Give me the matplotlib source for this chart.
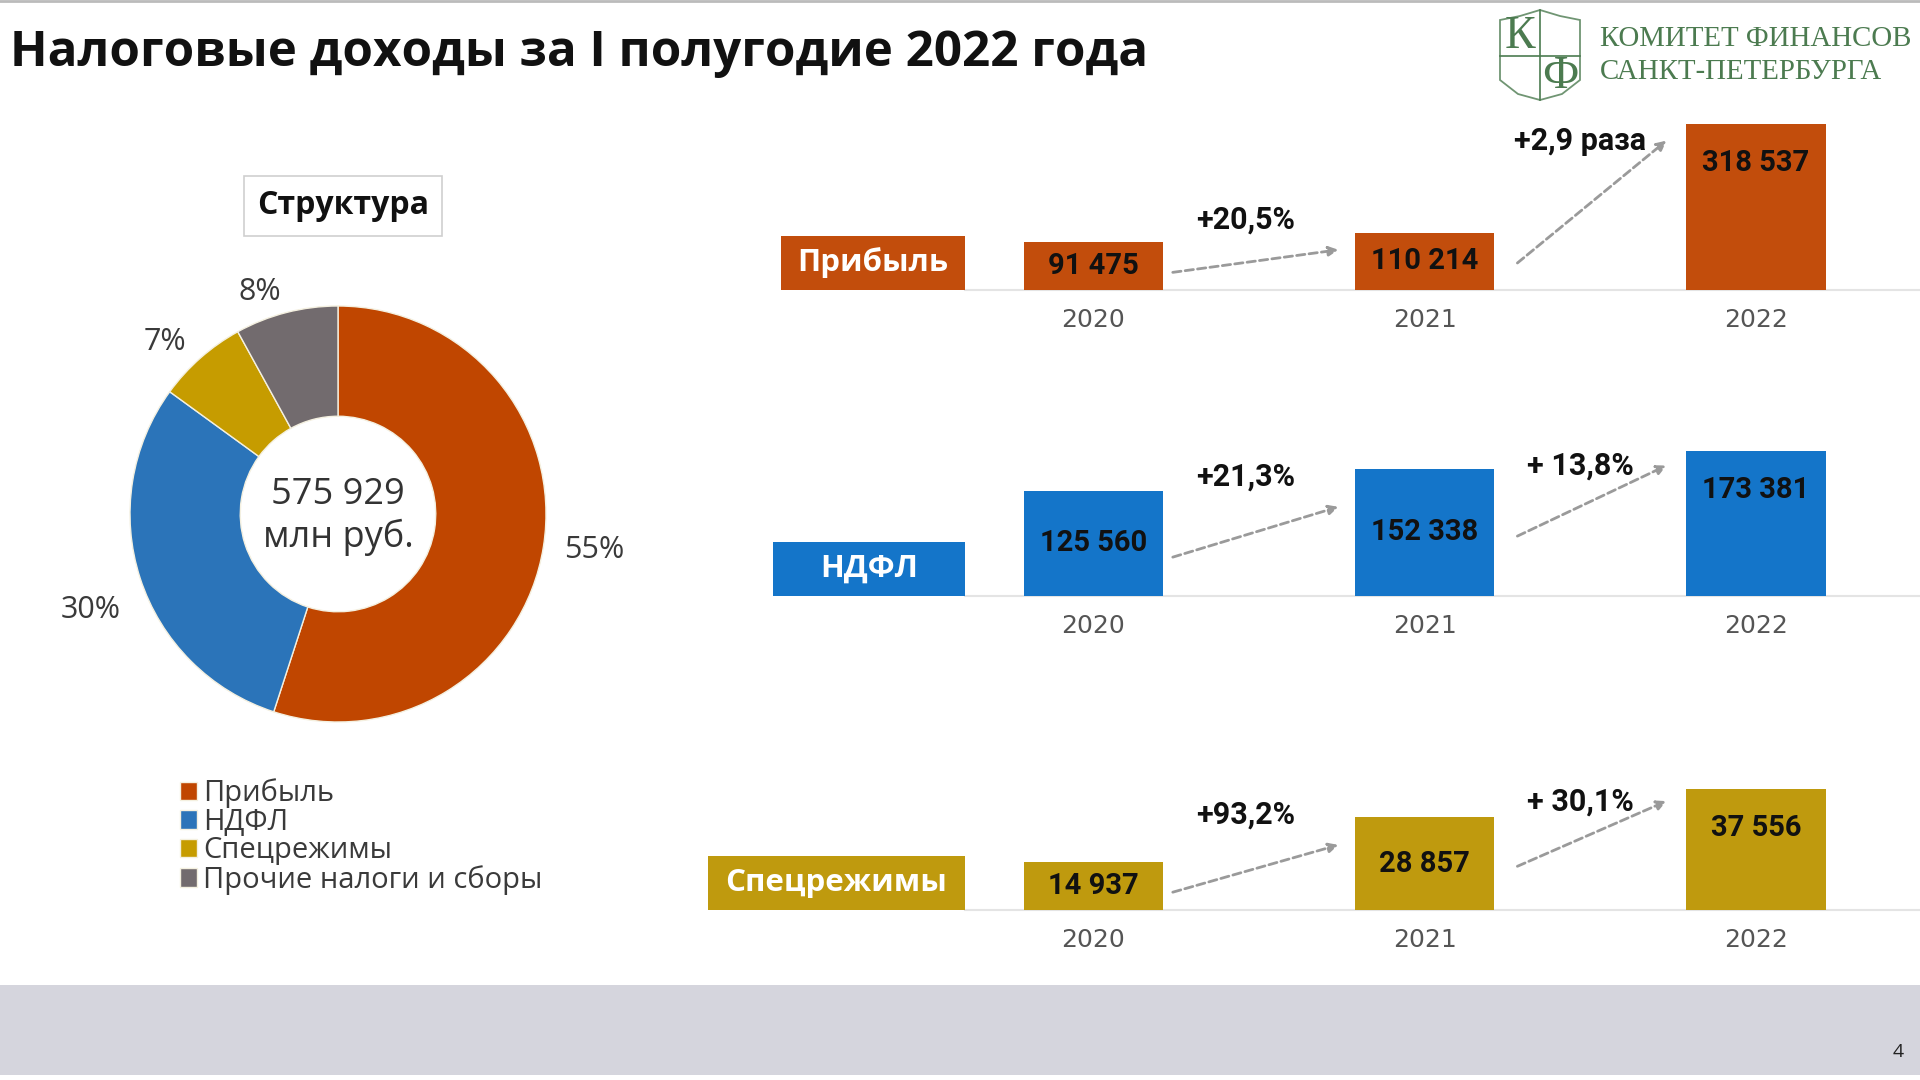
import matplotlib
matplotlib.use("Agg")
import matplotlib.pyplot as plt
from matplotlib.patches import Rectangle, Polygon
from matplotlib.lines import Line2D

# ---- data -------------------------------------------------------------
title = "Налоговые доходы за I полугодие 2022 года"
years = ["2020", "2021", "2022"]

tax_names = ["Прибыль", "НДФЛ", "Спецрежимы"]
profit_values = [91475, 110214, 318537]
ndfl_values = [125560, 152338, 173381]
special_values = [14937, 28857, 37556]
profit_growth = ["+20,5%", "+2,9 раза"]
ndfl_growth = ["+21,3%", "+ 13,8%"]
special_growth = ["+93,2%", "+ 30,1%"]

structure_labels = ["Прибыль", "НДФЛ", "Спецрежимы", "Прочие налоги и сборы"]
structure_shares = [55, 30, 7, 8]
total_text = "575 929\nмлн руб."

# ---- styling ----------------------------------------------------------
W, H = 1920, 1080
SANS = ["Open Sans", "DejaVu Sans"]
NARROW = ["Roboto", "DejaVu Sans"]
SERIF = ["Liberation Serif", "DejaVu Serif"]

bar_colors = ["#C24D0C", "#1475C9", "#BF9A0E"]
pie_colors = ["#C04600", "#2B74B9", "#C69C00", "#726B6E"]
logo_green = "#4C7B50"

# pixel layout of the three bar rows (baseline y, tallest bar height, label box left)
row_baseline = [290, 596, 910]
row_tallest_px = [166, 145, 121]
row_box_left = [781, 773, 708]
ROW_H = 200
arrow_frac = [(0.37, 0.70), (0.47, 0.90)]
arrow_x = [(0.24, 0.74), (1.28, 1.73)]
label_x = [0.46, 1.47]


def fx(x):
    return x / W


def fy(y):
    return 1 - y / H


plt.rcParams["font.family"] = SANS
fig = plt.figure(figsize=(W / 100, H / 100), dpi=100)
fig.patch.set_facecolor("white")

# header
fig.text(fx(10), fy(54), title, fontsize=35.5, fontweight="bold", color="#111111",
         ha="left", va="center")
fig.add_artist(Line2D([0, 1], [fy(1), fy(1)], color="#bbbbbb", lw=2))

# logo
shield = [(1500, 20), (1520, 16), (1540, 10), (1560, 16), (1580, 20), (1580, 80),
          (1562, 94), (1540, 100), (1518, 94), (1500, 80)]
fig.add_artist(Polygon([(fx(x), fy(y)) for x, y in shield], closed=True, fill=False,
                       edgecolor=logo_green, lw=1.3, alpha=0.8))
fig.add_artist(Line2D([fx(1540), fx(1540)], [fy(10), fy(100)], color=logo_green, lw=1.2))
fig.add_artist(Line2D([fx(1500), fx(1580)], [fy(56), fy(56)], color=logo_green, lw=1.2))
fig.text(fx(1520), fy(37), "К", family=SERIF, fontsize=33, color=logo_green,
         ha="center", va="center")
fig.text(fx(1560), fy(77), "Ф", family=SERIF, fontsize=33, color=logo_green,
         ha="center", va="center")
fig.text(fx(1600), fy(39), "КОМИТЕТ ФИНАНСОВ", family=SERIF, fontsize=20.8,
         color=logo_green, ha="left", va="center")
fig.text(fx(1600), fy(72), "САНКТ-ПЕТЕРБУРГА", family=SERIF, fontsize=20.8,
         color=logo_green, ha="left", va="center")

# ---- donut ------------------------------------------------------------
cx, cy, r = 338, 514, 208
ax_pie = fig.add_axes([fx(cx - r), fy(cy + r), 2 * r / W, 2 * r / H])
wedges, texts = ax_pie.pie(
    structure_shares,
    colors=pie_colors,
    labels=[f"{v}%" for v in structure_shares],
    labeldistance=1.1,
    startangle=90,
    counterclock=False,
    wedgeprops=dict(width=0.53, edgecolor="#f4f0e0", linewidth=1),
    textprops=dict(fontsize=22, color="#3a3a3a"),
)
# the 30% label sits a bit lower in the original
texts[1].set_position((texts[1].get_position()[0], texts[1].get_position()[1] - 0.12))
ax_pie.set_xlim(-1, 1)
ax_pie.set_ylim(-1, 1)
ax_pie.set_aspect("equal")
ax_pie.text(0, -0.01, total_text, ha="center", va="center", fontsize=26,
            color="#333333", linespacing=1.2)

fig.text(fx(343), fy(206), "Структура", fontsize=23, fontweight="bold", color="#111111",
         ha="center", va="center",
         bbox=dict(boxstyle="square,pad=0.42", facecolor="white", edgecolor="#cfcfcf", lw=1.2))

fig.legend(wedges, structure_labels, loc="upper left",
           bbox_to_anchor=(fx(168), fy(767)), frameon=False, fontsize=21,
           handlelength=0.6, handleheight=0.6, handletextpad=0.2,
           labelspacing=-0.02, borderaxespad=0, labelcolor="#3a3a3a")

# ---- bar rows ---------------------------------------------------------
rows = [
    (profit_values, profit_growth),
    (ndfl_values, ndfl_growth),
    (special_values, special_growth),
]

for k, (values, growth) in enumerate(rows):
    base = row_baseline[k]
    ax = fig.add_axes([fx(965), fy(base), fx(1920) - fx(965), ROW_H / H])
    ax.set_facecolor("none")
    top = max(values) * ROW_H / row_tallest_px[k]
    xs = list(range(len(values)))
    ax.bar(xs, values, width=0.42, color=bar_colors[k], zorder=3)
    ax.set_xlim(-0.387, 2.495)
    ax.set_ylim(0, top)

    for sp in ["top", "right", "left"]:
        ax.spines[sp].set_visible(False)
    ax.spines["bottom"].set_color("#e4e4e4")
    ax.spines["bottom"].set_linewidth(1.5)
    ax.set_yticks([])
    ax.set_xticks(xs)
    ax.set_xticklabels(years, fontsize=18, color="#555555", family=["DejaVu Sans"])
    ax.tick_params(axis="x", length=0, pad=13)

    for i, v in enumerate(values):
        if i == len(values) - 1:
            ax.annotate(f"{v:,}".replace(",", " "), (i, v), xytext=(0, -28),
                        textcoords="offset points", ha="center", va="center",
                        family=NARROW, fontsize=21, fontweight="bold", color="#111111")
        else:
            ax.text(i, v / 2, f"{v:,}".replace(",", " "), ha="center", va="center",
                    family=NARROW, fontsize=21, fontweight="bold", color="#111111")

    for i, g in enumerate(growth):
        y0 = arrow_frac[i][0] * values[i]
        y1 = arrow_frac[i][1] * values[i + 1]
        ax.annotate("", xy=(arrow_x[i][1], y1), xytext=(arrow_x[i][0], y0),
                    arrowprops=dict(arrowstyle="-|>", color="#9a9a9a", lw=2,
                                    linestyle=(0, (3, 1.5)), mutation_scale=14,
                                    shrinkA=0, shrinkB=0))
        off = 22 if i == 0 else 0
        ax.annotate(g, (label_x[i], y1), xytext=(0, off), textcoords="offset points",
                    ha="center", va="center", family=NARROW, fontsize=22,
                    fontweight="bold", color="#111111", annotation_clip=False)

    # category label box
    fig.add_artist(Rectangle((fx(row_box_left[k]), fy(base)), fx(965) - fx(row_box_left[k]),
                             54 / H, facecolor=bar_colors[k], edgecolor="none"))
    fig.text((fx(row_box_left[k]) + fx(965)) / 2, fy(base - 27), tax_names[k],
             fontsize=22.5, fontweight="bold", color="white", ha="center", va="center")

# ---- bottom band ------------------------------------------------------
fig.add_artist(Rectangle((0, fy(1075)), 1, 90 / H, facecolor="#D5D5DD", edgecolor="none"))
fig.text(fx(1898), fy(1052), "4", fontsize=14, color="#222222", ha="center", va="center")

fig.savefig("out.png", dpi=100)
